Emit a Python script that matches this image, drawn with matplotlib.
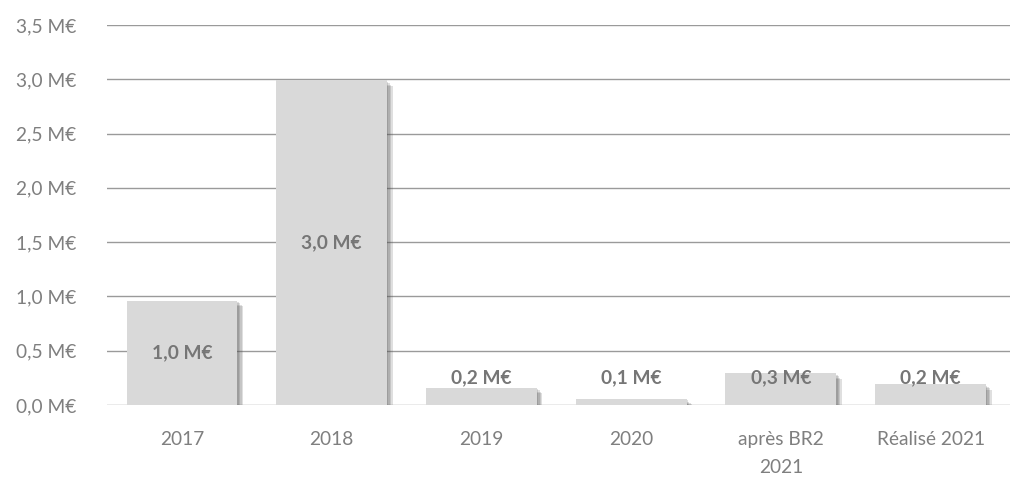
import matplotlib.pyplot as plt
import matplotlib.patheffects as pe
from matplotlib.ticker import FuncFormatter

# Values (millions of euros)
categories = ['2017', '2018', '2019', '2020', 'après BR2\n2021', 'Réalisé 2021']
values = [0.96, 2.99, 0.16, 0.055, 0.29, 0.19]
labels = ['1,0 M€', '3,0 M€', '0,2 M€', '0,1 M€', '0,3 M€', '0,2 M€']
yticks = [0, 0.5, 1.0, 1.5, 2.0, 2.5, 3.0, 3.5]

TEXT = '#7f7f7f'
FS = 13.8
plt.rcParams['font.family'] = ['Lato', 'DejaVu Sans']

fig = plt.figure(figsize=(10.10, 4.82), dpi=100)
ax = fig.add_axes([0.106, 0.16, 0.894, 0.788])

x = range(len(categories))
bars = ax.bar(x, values, width=0.74, color='#d9d9d9', zorder=3)
# soft shadow: a few stacked offsets
shadow = [pe.SimplePatchShadow(offset=(d, -d), shadow_rgbFace='#505050', alpha=0.18)
          for d in (4, 3, 2, 1)]
for b in bars:
    b.set_path_effects(shadow + [pe.Normal()])

for i, (v, lab) in enumerate(zip(values, labels)):
    ax.text(i, max(v / 2, 0.25), lab, ha='center', va='center', fontsize=FS,
            fontweight='bold', color='#767676', zorder=4)

ax.set_ylim(0, 3.5)
ax.set_xlim(-0.5, len(categories) - 0.47)
ax.set_yticks(yticks)
ax.yaxis.set_major_formatter(FuncFormatter(lambda v, p: f'{v:.1f} M€'.replace('.', ',')))
ax.set_xticks(list(x))
ax.set_xticklabels(categories, linespacing=1.75)
ax.grid(axis='y', color='#9a9a9a', linewidth=1, zorder=0)
ax.tick_params(length=0, colors=TEXT, labelsize=FS)
ax.tick_params(axis='y', pad=22)
ax.tick_params(axis='x', pad=19)
for s in ax.spines.values():
    s.set_visible(False)

fig.savefig('out.png', dpi=100)
